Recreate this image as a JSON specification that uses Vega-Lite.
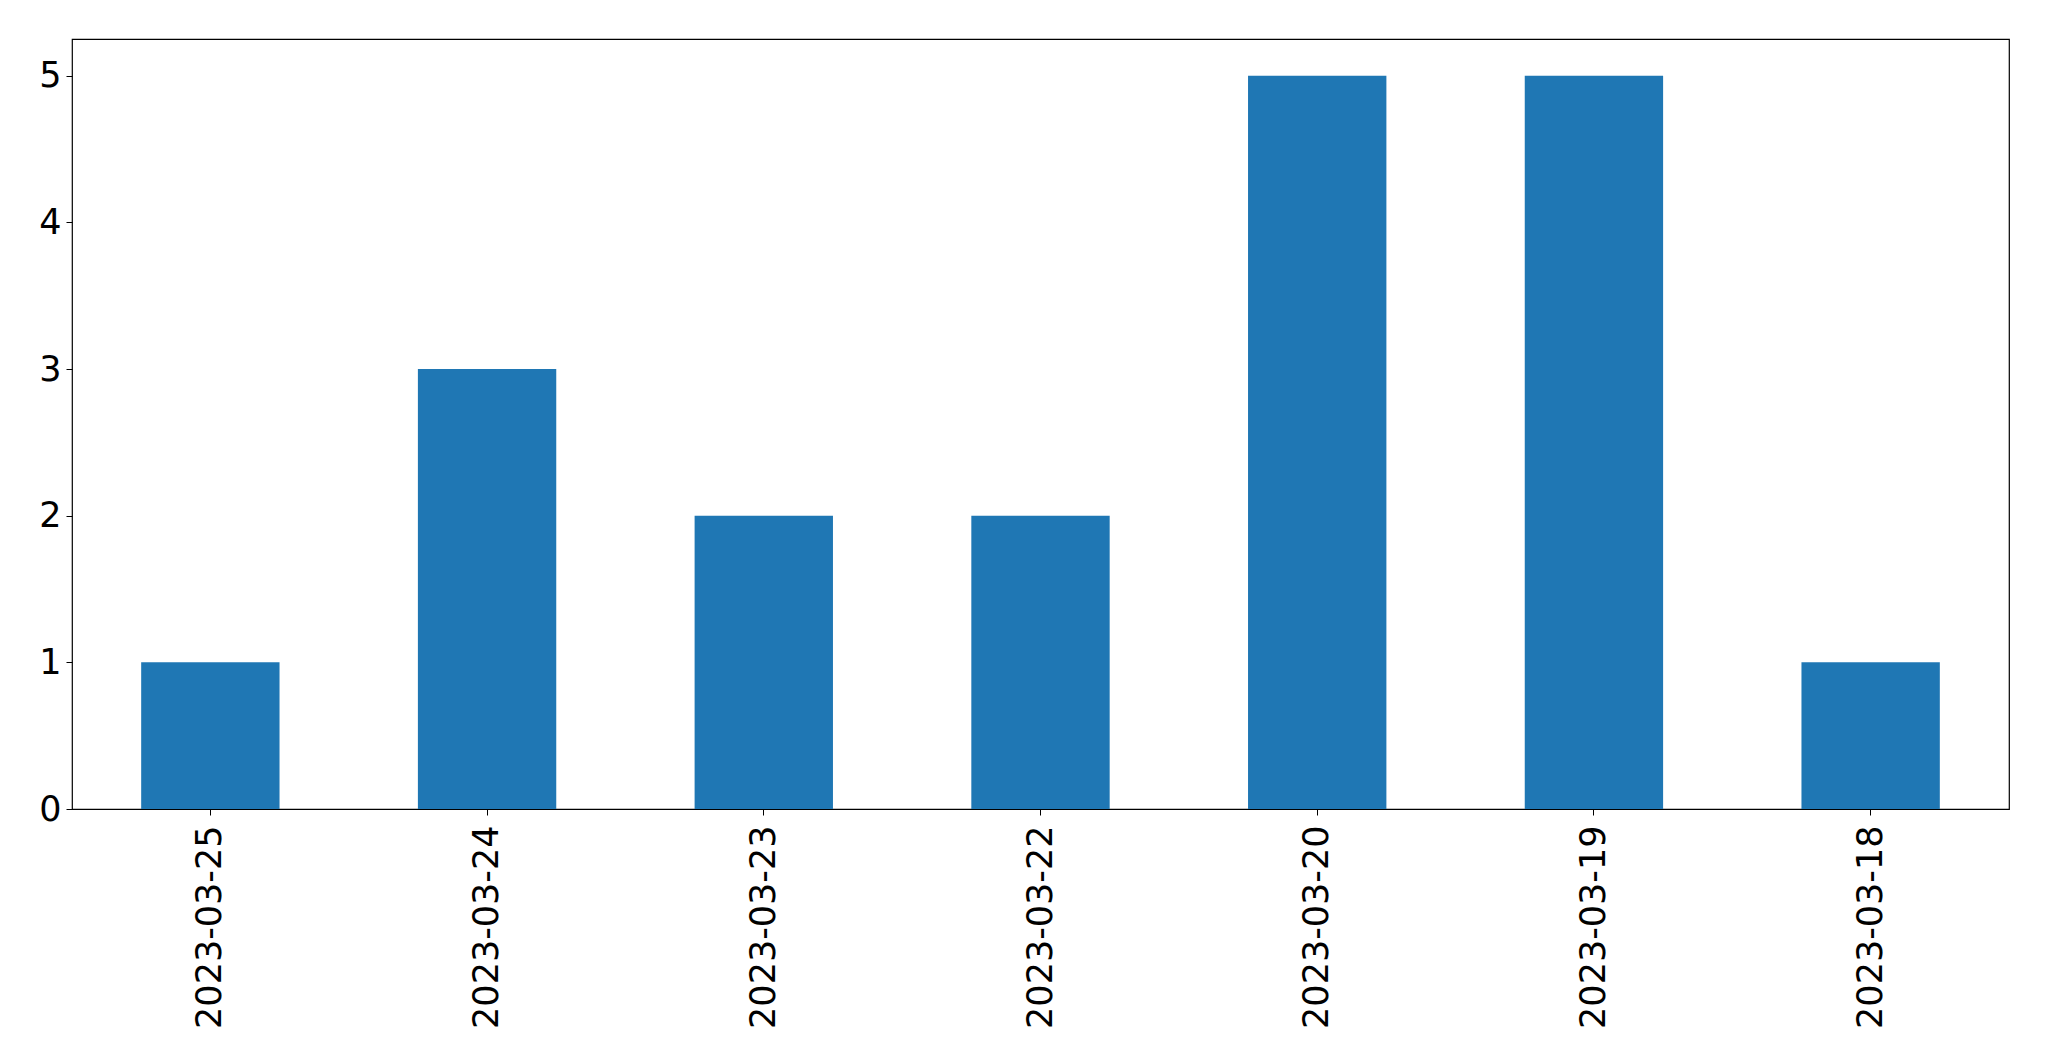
{
  "$schema": "https://vega.github.io/schema/vega-lite/v6.json",
  "autosize": {"type": "none"},
  "padding": {"left": 72, "top": 39, "right": 40, "bottom": 252},
  "width": 1937,
  "height": 770,
  "background": "white",
  "data": {
    "values": [
      {"date": "2023-03-25", "count": 1},
      {"date": "2023-03-24", "count": 3},
      {"date": "2023-03-23", "count": 2},
      {"date": "2023-03-22", "count": 2},
      {"date": "2023-03-20", "count": 5},
      {"date": "2023-03-19", "count": 5},
      {"date": "2023-03-18", "count": 1}
    ]
  },
  "mark": {"type": "bar", "color": "#1f77b4"},
  "encoding": {
    "x": {
      "field": "date",
      "type": "nominal",
      "sort": null,
      "title": null,
      "scale": {"paddingInner": 0.5, "paddingOuter": 0.25},
      "axis": {
        "labelAngle": -90,
        "labelAlign": "right",
        "labelBaseline": "middle",
        "labelFont": "DejaVu Sans",
        "labelFontSize": 35,
        "labelColor": "black",
        "labelPadding": 10,
        "labelLimit": 0,
        "tickSize": 6,
        "tickColor": "black",
        "domain": false,
        "grid": false
      }
    },
    "y": {
      "field": "count",
      "type": "quantitative",
      "title": null,
      "scale": {"domain": [0, 5.25], "nice": false, "zero": true},
      "axis": {
        "values": [0, 1, 2, 3, 4, 5],
        "labelFont": "DejaVu Sans",
        "labelFontSize": 35,
        "labelColor": "black",
        "labelPadding": 5,
        "tickSize": 6,
        "tickColor": "black",
        "domain": false,
        "grid": false
      }
    }
  },
  "config": {
    "view": {"stroke": "black", "strokeWidth": 1.2}
  }
}
